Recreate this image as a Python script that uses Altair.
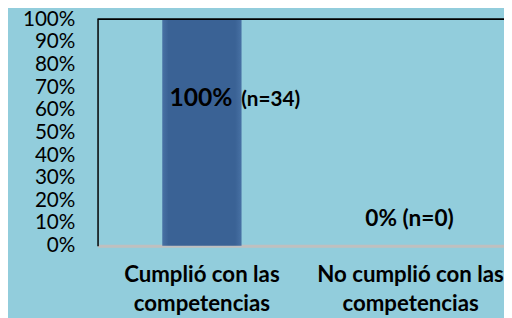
import altair as alt
import pandas as pd

categories = ["Cumplió con  las|competencias", "No cumplió con las|competencias"]
values = [1.0, 0.0]
pct_labels = ["100%", "0%"]
n_labels = ["(n=34)", "(n=0)"]
y_ticks = [0, 0.1, 0.2, 0.3, 0.4, 0.5, 0.6, 0.7, 0.8, 0.9, 1.0]

df = pd.DataFrame({"cat": categories, "value": values, "pct": pct_labels, "n": n_labels})
df["full"] = df["pct"] + " " + df["n"]

FONT = "Lato"
BG = "#92CDDC"

xscale = alt.Scale(domain=categories, paddingInner=0.62, paddingOuter=0.284, align=0.546)
yscale = alt.Scale(domain=[0, 1], nice=False)

x_axis = alt.Axis(labelAngle=0, labelExpr="split(datum.label, '|')",
                  labelFont=FONT, labelFontSize=22.6, labelFontWeight="bold",
                  labelColor="black", labelLineHeight=30, labelBaseline="alphabetic",
                  labelPadding=36, ticks=False, domainColor="#BFBFBF",
                  domainWidth=3, labelLimit=400)
y_axis = alt.Axis(values=y_ticks, format=".0%", grid=False, ticks=False,
                  labelOverlap=False,
                  labelFont=FONT, labelFontSize=21, labelColor="black",
                  labelPadding=23, domainColor="black", domainWidth=1.5)


def xe():
    return alt.X("cat:N", scale=xscale, sort=categories, title=None, axis=x_axis)


def yd(v):
    return alt.YDatum(v, scale=yscale, axis=y_axis, title=None)


bar_fill = alt.Gradient(gradient="linear", x1=0, x2=1, y1=0, y2=0,
                        stops=[alt.GradientStop(color="#4871A4", offset=0),
                               alt.GradientStop(color="#3A6295", offset=0.08),
                               alt.GradientStop(color="#3A6295", offset=0.92),
                               alt.GradientStop(color="#4871A4", offset=1)])

base = alt.Chart(df)
bars = base.mark_bar(fill=bar_fill).encode(
    x=xe(), y=alt.Y("value:Q", scale=yscale, axis=y_axis, title=None))
top_rule = base.mark_rule(color="black", strokeWidth=1.5).encode(y=yd(1.0))

first = base.transform_filter(alt.datum.value > 0.5)
second = base.transform_filter(alt.datum.value <= 0.5)

t1 = first.mark_text(font=FONT, fontSize=25, fontWeight="bold", align="left",
                     baseline="alphabetic", dx=-33, color="black").encode(
    x=xe(), y=yd(0.617), text="pct:N")
t2 = first.mark_text(font=FONT, fontSize=21, fontWeight="bold", align="left",
                     baseline="alphabetic", dx=40, color="black").encode(
    x=xe(), y=yd(0.617), text="n:N")
t3 = second.mark_text(font=FONT, fontSize=23, fontWeight="bold", align="center",
                      baseline="alphabetic", dx=-1, color="black").encode(
    x=xe(), y=yd(0.087), text="full:N")

chart = alt.layer(bars, top_rule, t1, t2, t3).properties(
    width=413, height=230,
    background=BG,
    autosize=alt.AutoSizeParams(type="none"),
    padding={"left": 91, "top": 9, "right": 0, "bottom": 71},
).configure_view(stroke=None).configure_axisY(labelOverlap=False)

chart.save("out.html", embed_options={"renderer": "svg", "actions": False})
